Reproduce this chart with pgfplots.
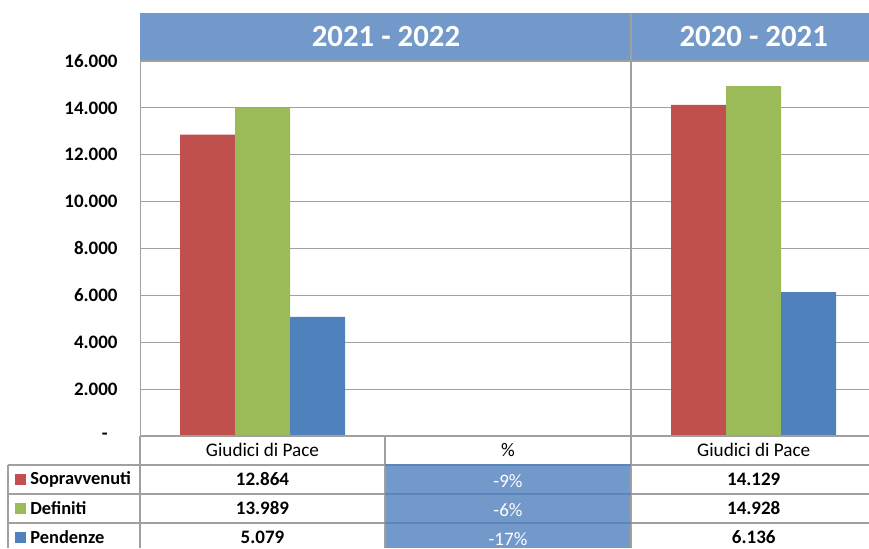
\documentclass[border=0pt]{standalone}
\usepackage{pgfplots}
\pgfplotsset{compat=1.18}
\usepackage{fontspec}
\setmainfont{Carlito}
\definecolor{hdr}{HTML}{7299C9}
\definecolor{hdrline}{HTML}{5A84BA}
\definecolor{cred}{HTML}{C0504D}
\definecolor{cgreen}{HTML}{9BBB59}
\definecolor{cblue}{HTML}{4F81BD}
\definecolor{gridc}{HTML}{A0A0A0}
\begin{document}
\begin{tikzpicture}
\useasboundingbox (0pt,0pt) rectangle (434.5pt,274pt);
\clip (0pt,0pt) rectangle (434.5pt,274pt);
\begin{scope}[x=0.5pt,y=0.5pt]
% header band
\fill[hdr] (140,487) rectangle (869,535);
\draw[hdrline, line width=0.8pt] (140,487) -- (869,487);
\node[white,font=\fontsize{15.4}{18}\selectfont\bfseries] at (386,511) {2021 - 2022};
\node[white,font=\fontsize{15.4}{18}\selectfont\bfseries] at (753.75,511) {2020 - 2021};
% % column fill
\fill[hdr] (385,0) rectangle (631,83);
\end{scope}
\begin{axis}[
  at={(70pt,56pt)}, anchor=south west, scale only axis,
  width=364.5pt, height=187.5pt,
  xmin=-0.5, xmax=2.4695, ymin=0, ymax=16000,
  axis x line=none,
  axis y line=left, axis line style={draw=gridc,-},
  xtick=\empty,
  scaled y ticks=false,
  ytick={0,2000,4000,6000,8000,10000,12000,14000,16000},
  yticklabels={{-\rule{5pt}{0pt}},2.000,4.000,6.000,8.000,10.000,12.000,14.000,16.000},
  major tick length=0pt,
  ymajorgrids, grid style={draw=gridc, line width=0.6pt},
  /pgf/number format/assume math mode=true,
  yticklabel style={font=\fontsize{9.5}{11}\selectfont\bfseries, anchor=east, inner sep=0pt, xshift=-11pt},
  ybar, bar width=27.5pt,
  clip=false,
]
\addplot[fill=cred, draw=none, bar shift=-27.5pt] coordinates {(0,12864) (2,14129)};
\addplot[fill=cgreen, draw=none, bar shift=0pt] coordinates {(0,13989) (2,14928)};
\addplot[fill=cblue, draw=none, bar shift=27.5pt] coordinates {(0,5079) (2,6136)};
\end{axis}
\begin{scope}[x=0.5pt,y=0.5pt]
% grid/table lines
\draw[gridc, line width=0.6pt] (140,112) -- (869,112);
\draw[gridc, line width=0.6pt] (631,535) -- (631,0);
\draw[gridc, line width=0.6pt] (140,112) -- (140,0);
\draw[gridc, line width=0.6pt] (385,112) -- (385,0);
\draw[gridc, line width=0.6pt] (8,83) -- (8,0);
\draw[gridc, line width=0.6pt] (8,83) -- (385,83) (631,83) -- (869,83);
\draw[gridc, line width=0.6pt] (8,54) -- (385,54) (631,54) -- (869,54);
\draw[gridc, line width=0.6pt] (8,25) -- (385,25) (631,25) -- (869,25);
\draw[hdrline, line width=0.6pt] (385,83) -- (631,83) (385,54) -- (631,54) (385,25) -- (631,25);
% header row
\node[font=\fontsize{9.6}{11}\selectfont] at (262.5,98) {Giudici di Pace};
\node[font=\fontsize{9.6}{11}\selectfont] at (508,98) {\%};
\node[font=\fontsize{9.6}{11}\selectfont] at (753.75,98) {Giudici di Pace};
% legend keys and row labels
\fill[cred] (15,63) rectangle (26,74);
\fill[cgreen] (15,34) rectangle (26,45);
\fill[cblue] (15,5) rectangle (26,16);
\node[anchor=west, inner sep=0pt, font=\fontsize{9.2}{11}\selectfont\bfseries] at (30,68.5) {Sopravvenuti};
\node[anchor=west, inner sep=0pt, font=\fontsize{9.2}{11}\selectfont\bfseries] at (30,39.5) {Definiti};
\node[anchor=west, inner sep=0pt, font=\fontsize{9.2}{11}\selectfont\bfseries] at (30,10.5) {Pendenze};
% values
\node[font=\fontsize{9.5}{11}\selectfont\bfseries] at (262.5,68.5) {12.864};
\node[font=\fontsize{9.5}{11}\selectfont\bfseries] at (262.5,39.5) {13.989};
\node[font=\fontsize{9.5}{11}\selectfont\bfseries] at (262.5,10.5) {5.079};
\node[white, font=\fontsize{9.5}{11}\selectfont] at (508,66.5) {-9\%};
\node[white, font=\fontsize{9.5}{11}\selectfont] at (508,37.5) {-6\%};
\node[white, font=\fontsize{9.5}{11}\selectfont] at (508,8.5) {-17\%};
\node[font=\fontsize{9.5}{11}\selectfont\bfseries] at (753.75,68.5) {14.129};
\node[font=\fontsize{9.5}{11}\selectfont\bfseries] at (753.75,39.5) {14.928};
\node[font=\fontsize{9.5}{11}\selectfont\bfseries] at (753.75,10.5) {6.136};
\end{scope}
\end{tikzpicture}
\end{document}
